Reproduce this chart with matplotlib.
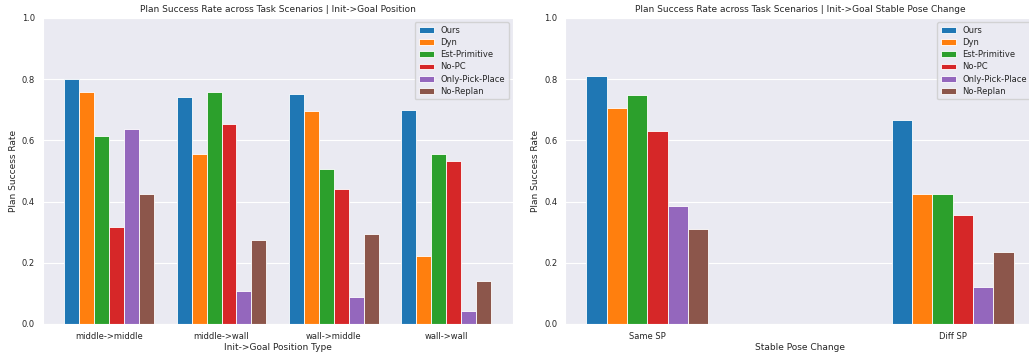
import matplotlib
matplotlib.use("Agg")
import matplotlib.pyplot as plt
import seaborn as sns
import numpy as np

methods = ["Ours", "Dyn", "Est-Primitive", "No-PC", "Only-Pick-Place", "No-Replan"]
colors = ["#1f77b4", "#ff7f0e", "#2ca02c", "#d62728", "#9467bd", "#8c564b"]

pos_types = ["middle->middle", "middle->wall", "wall->middle", "wall->wall"]
pos_rates = {
    "Ours":            [0.800, 0.743, 0.750, 0.700],
    "Dyn":             [0.757, 0.557, 0.696, 0.221],
    "Est-Primitive":   [0.615, 0.757, 0.507, 0.557],
    "No-PC":           [0.318, 0.655, 0.440, 0.533],
    "Only-Pick-Place": [0.636, 0.108, 0.089, 0.043],
    "No-Replan":       [0.425, 0.275, 0.293, 0.142],
}

sp_types = ["Same SP", "Diff SP"]
sp_rates = {
    "Ours":            [0.811, 0.667],
    "Dyn":             [0.707, 0.425],
    "Est-Primitive":   [0.748, 0.425],
    "No-PC":           [0.632, 0.357],
    "Only-Pick-Place": [0.387, 0.120],
    "No-Replan":       [0.310, 0.236],
}

sns.set_style("darkgrid")
plt.rcParams['font.family'] = ['DejaVu Sans']

fig = plt.figure(figsize=(10.29, 3.56), dpi=100)
ax1 = fig.add_axes([0.0415, 0.0899, 0.4568, 0.8596])
ax2 = fig.add_axes([0.549, 0.0899, 0.4568, 0.8596])


def grouped_bars(ax, cats, rates, total_width, title, xlabel):
    x = np.arange(len(cats))
    w = total_width / len(methods)
    for i, m in enumerate(methods):
        off = (i - (len(methods) - 1) / 2) * w
        ax.bar(x + off, rates[m], w, color=colors[i], label=m,
               edgecolor="white", linewidth=0.6)
    ax.set_xticks(x)
    ax.set_xticklabels(cats, fontsize=6)
    ax.set_ylim(0, 1.0)
    ax.set_yticks([0, 0.2, 0.4, 0.6, 0.8, 1.0])
    ax.set_yticklabels(["0.0", "0.2", "0.4", "0.6", "0.8", "1.0"], fontsize=6)
    ax.tick_params(axis="both", length=0, pad=5.5)
    ax.grid(axis="x", visible=False)
    ax.set_title(title, fontsize=6.5, pad=4)
    ax.set_xlabel(xlabel, fontsize=6.5, labelpad=2)
    ax.set_ylabel("Plan Success Rate", fontsize=6.5, labelpad=3)
    ax.legend(loc="upper right", fontsize=6, frameon=True, borderpad=0.45,
              labelspacing=0.38, handlelength=1.8)


grouped_bars(ax1, pos_types, pos_rates, 0.8,
             "Plan Success Rate across Task Scenarios | Init->Goal Position",
             "Init->Goal Position Type")
grouped_bars(ax2, sp_types, sp_rates, 0.4,
             "Plan Success Rate across Task Scenarios | Init->Goal Stable Pose Change",
             "Stable Pose Change")

fig.savefig("out.png", dpi=100)
